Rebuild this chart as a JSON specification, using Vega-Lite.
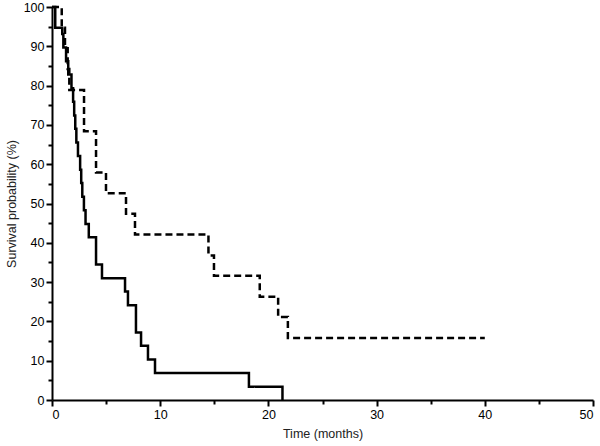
{
  "$schema": "https://vega.github.io/schema/vega-lite/v6.json",
  "autosize": "none",
  "padding": {"left": 52, "top": 7, "right": 7, "bottom": 46},
  "width": 541,
  "height": 393,
  "background": "white",
  "data": {
    "values": [
      {"group": "A", "t": 0, "s": 100},
      {"group": "A", "t": 0.3, "s": 94.7},
      {"group": "A", "t": 0.95, "s": 93.1},
      {"group": "A", "t": 1.05, "s": 89.7},
      {"group": "A", "t": 1.3, "s": 86.2},
      {"group": "A", "t": 1.5, "s": 82.8},
      {"group": "A", "t": 1.8, "s": 79.3},
      {"group": "A", "t": 1.95, "s": 75.9},
      {"group": "A", "t": 2.05, "s": 72.4},
      {"group": "A", "t": 2.15, "s": 69.0},
      {"group": "A", "t": 2.25, "s": 65.5},
      {"group": "A", "t": 2.4, "s": 62.1},
      {"group": "A", "t": 2.6, "s": 58.6},
      {"group": "A", "t": 2.7, "s": 55.2},
      {"group": "A", "t": 2.8, "s": 51.7},
      {"group": "A", "t": 2.95, "s": 48.3},
      {"group": "A", "t": 3.1, "s": 44.8},
      {"group": "A", "t": 3.4, "s": 41.4},
      {"group": "A", "t": 4.07, "s": 34.5},
      {"group": "A", "t": 4.62, "s": 31.0},
      {"group": "A", "t": 6.75, "s": 27.6},
      {"group": "A", "t": 7.02, "s": 24.1},
      {"group": "A", "t": 7.76, "s": 17.2},
      {"group": "A", "t": 8.23, "s": 13.8},
      {"group": "A", "t": 8.87, "s": 10.3},
      {"group": "A", "t": 9.52, "s": 6.9},
      {"group": "A", "t": 18.2, "s": 3.4},
      {"group": "A", "t": 21.3, "s": 0},
      {"group": "B", "t": 0, "s": 100},
      {"group": "B", "t": 0.9, "s": 94.7},
      {"group": "B", "t": 1.2, "s": 89.5},
      {"group": "B", "t": 1.45, "s": 84.2},
      {"group": "B", "t": 1.6, "s": 78.9},
      {"group": "B", "t": 2.96, "s": 68.4},
      {"group": "B", "t": 4.07, "s": 57.9},
      {"group": "B", "t": 4.99, "s": 52.6},
      {"group": "B", "t": 6.84, "s": 47.4},
      {"group": "B", "t": 7.67, "s": 42.1},
      {"group": "B", "t": 14.46, "s": 36.8},
      {"group": "B", "t": 14.97, "s": 31.6},
      {"group": "B", "t": 19.2, "s": 26.3},
      {"group": "B", "t": 20.9, "s": 21.1},
      {"group": "B", "t": 21.8, "s": 15.8},
      {"group": "B", "t": 40.0, "s": 15.8}
    ]
  },
  "mark": {"type": "line", "interpolate": "step-after", "color": "black", "strokeWidth": 2.5, "clip": false},
  "encoding": {
    "x": {
      "field": "t",
      "type": "quantitative",
      "title": "Time (months)",
      "scale": {"domain": [0, 50], "nice": false},
      "axis": {
        "values": [0, 5, 10, 15, 20, 25, 30, 35, 40, 45, 50],
        "labelExpr": "datum.value % 10 === 0 ? datum.label : ''",
        "tickSize": {"condition": {"test": "datum.value % 10 === 0", "value": 6}, "value": 4},
        "labelPadding": 2,
        "titlePadding": 7
      }
    },
    "y": {
      "field": "s",
      "type": "quantitative",
      "title": "Survival probability (%)",
      "scale": {"domain": [0, 100], "nice": false},
      "axis": {
        "values": [0, 5, 10, 15, 20, 25, 30, 35, 40, 45, 50, 55, 60, 65, 70, 75, 80, 85, 90, 95, 100],
        "labelExpr": "datum.value % 10 === 0 ? datum.label : ''",
        "tickSize": {"condition": {"test": "datum.value % 10 === 0", "value": 6}, "value": 4},
        "labelPadding": 2,
        "titlePadding": 5
      }
    },
    "detail": {"field": "group"},
    "strokeDash": {
      "field": "group",
      "type": "nominal",
      "scale": {"domain": ["A", "B"], "range": [[1, 0], [7, 4]]},
      "legend": null
    }
  },
  "config": {
    "view": {"stroke": null},
    "axis": {
      "grid": false,
      "domainColor": "black",
      "domainWidth": 2,
      "tickColor": "black",
      "tickWidth": 2,
      "labelColor": "black",
      "labelFont": "Liberation Sans",
      "labelFontSize": 12.5,
      "titleFont": "Liberation Sans",
      "titleFontSize": 12.5,
      "titleFontWeight": "normal",
      "titleColor": "#222"
    }
  }
}
